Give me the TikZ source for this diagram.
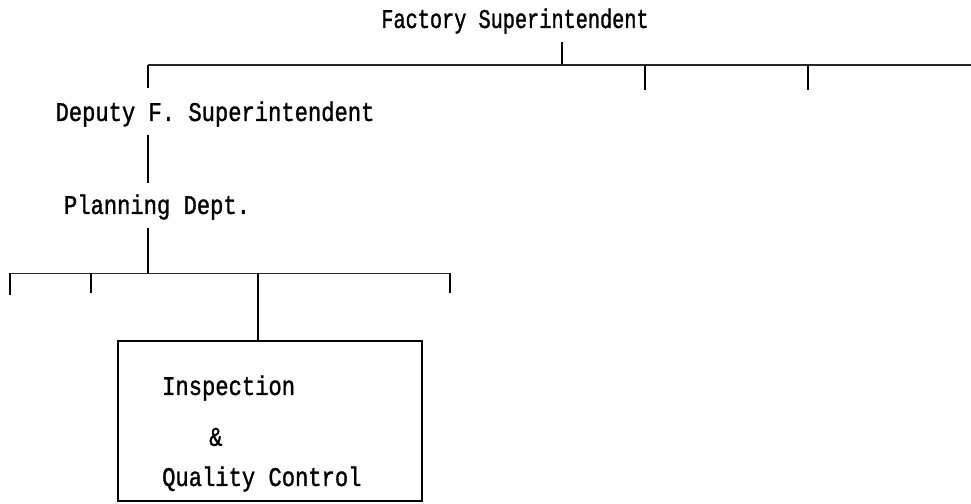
\documentclass[tikz,border=0pt]{standalone}
\usepackage{fontspec}
\newfontfamily\orgfont[FakeStretch=0.82,FakeBold=1.2]{Liberation Mono}
\newfontfamily\topfont[FakeStretch=0.75,FakeBold=1.2]{Liberation Mono}
\begin{document}
\begin{tikzpicture}[x=1pt,y=-1pt,
  lbl/.style={font=\orgfont\fontsize{27}{30}\selectfont, inner sep=0pt, anchor=center},
  ln/.style={line width=1.3pt, black},
  hl/.style={line width=1pt, black!85}]
\useasboundingbox (0,0) rectangle (971,503);
% texts
\node[lbl, font=\topfont\fontsize{27}{30}\selectfont] (fs) at (515,21) {Factory Superintendent};
\node[lbl] (dfs) at (215,114) {Deputy F. Superintendent};
\node[lbl] (pd) at (157,207) {Planning Dept.};
% box
\node[draw, line width=1.2pt, minimum width=304pt, minimum height=160pt, inner sep=0pt] (iqc) at (270,421) {};
\node[lbl, anchor=west] (t1) at (162,388) {Inspection};
\node[lbl, anchor=west] (t2) at (209,437) {\&};
\node[lbl, anchor=west] (t3) at (162,479) {Quality Control};
% coordinates
\coordinate (ftop) at (562,42);
\coordinate (fj) at (562,65);
\coordinate (bl) at (148,65);
\coordinate (br) at (971,65);
\coordinate (d1) at (645,65);
\coordinate (d1e) at (645,90);
\coordinate (d2) at (808,65);
\coordinate (d2e) at (808,90);
\coordinate (dtop) at (148,88);
\coordinate (dsa) at (148,135);
\coordinate (psa) at (148,183);
\coordinate (pb) at (148,228);
\coordinate (pj) at (148,273);
\coordinate (ll) at (10,273);
\coordinate (lr) at (450,273);
\coordinate (l1e) at (10,295);
\coordinate (l2) at (91,273);
\coordinate (l2e) at (91,293);
\coordinate (l3) at (258,273);
\coordinate (l4e) at (450,293);
% connectors
\draw[ln] (ftop) -- (fj);
\draw[hl] (bl) -- (br);
\draw[ln] (bl) -- (dtop);
\draw[ln] (d1) -- (d1e);
\draw[ln] (d2) -- (d2e);
\draw[ln] (dsa) -- (psa);
\draw[ln] (pb) -- (pj);
\draw[hl] (ll) -- (lr);
\draw[ln] (ll) -- (l1e);
\draw[ln] (l2) -- (l2e);
\draw[ln] (lr) -- (l4e);
\draw[ln] (l3) -- (l3 |- iqc.north);
\end{tikzpicture}
\end{document}
